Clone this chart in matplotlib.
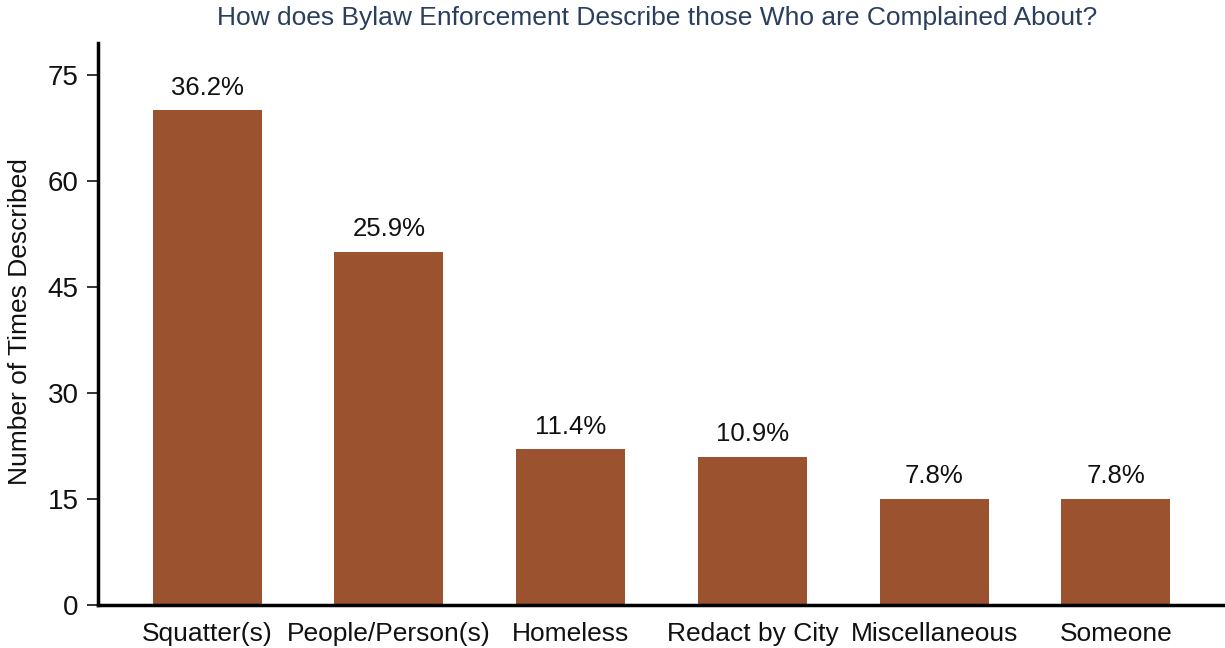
import matplotlib
matplotlib.use('agg')
import matplotlib.pyplot as plt

categories = ["Squatter(s)", "People/Person(s)", "Homeless", "Redact by City", "Miscellaneous", "Someone"]
counts = [70, 50, 22, 21, 15, 15]
pct_labels = ["36.2%", "25.9%", "11.4%", "10.9%", "7.8%", "7.8%"]
yticks = [0, 15, 30, 45, 60, 75]

plt.rcParams['font.family'] = ['Liberation Sans', 'DejaVu Sans']

fig = plt.figure(figsize=(12.25, 6.48), dpi=100)
ax = fig.add_axes([98 / 1225, 1 - 605 / 648, 1 - 98 / 1225, (605 - 43) / 648])

x = list(range(len(categories)))
bars = ax.bar(x, counts, width=0.6, color='#9b522e')

for xi, c, lab in zip(x, counts, pct_labels):
    ax.text(xi, c + 1.5, lab, ha='center', va='bottom', fontsize=18.5, color='#111111')

ax.set_xlim(-0.6, 5.6)
ax.set_ylim(0, 79.5)
ax.set_yticks(yticks)
ax.set_xticks(x)
ax.set_xticklabels(categories, fontsize=19, color='#111111')
ax.tick_params(axis='y', labelsize=20, length=8, width=1.2, colors='#111111', pad=6)
ax.tick_params(axis='x', length=0, pad=12)

fig.text(20 / 1225, 1 - 322 / 648, "Number of Times Described", rotation=90,
         ha='center', va='center', fontsize=19, color='#111111')

for s in ['top', 'right']:
    ax.spines[s].set_visible(False)
ax.spines['left'].set_linewidth(2.5)
ax.spines['bottom'].set_linewidth(2.5)

fig.text(657 / 1225, 1 - 18 / 648, "How does Bylaw Enforcement Describe those Who are Complained About?",
         ha='center', va='center', fontsize=19, color='#2a3f5f')

fig.savefig("out.png", dpi=100)
